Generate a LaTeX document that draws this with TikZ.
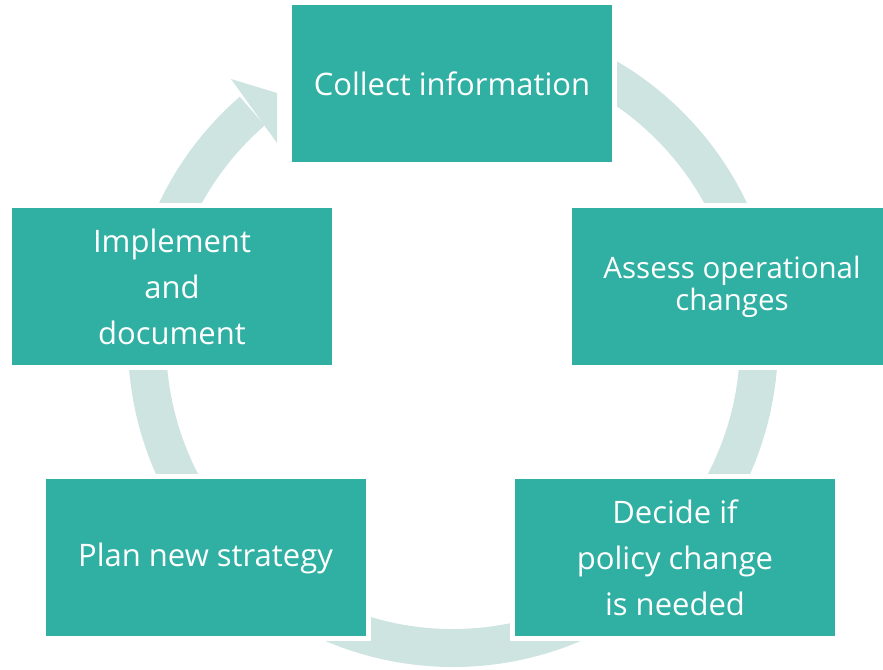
\documentclass[tikz,border=0pt]{standalone}
\usepackage{fontspec}
\setmainfont{Open Sans}
\definecolor{boxteal}{HTML}{30AFA3}
\definecolor{ringtint}{HTML}{CDE4E1}
\begin{document}
\begin{tikzpicture}[x=1pt,y=1pt,
  stage/.style={rectangle, fill=boxteal, text=white, align=center,
    minimum width=320pt, minimum height=157pt, inner sep=0pt,
    preaction={draw=white, line width=10pt},
    font=\fontsize{31}{46}\selectfont},
  ring/.style={fill=ringtint}]
\useasboundingbox (0,0) rectangle (883,669);
\begin{scope}
\clip (0,0) rectangle (883,669);
% circular band running clockwise, tail hidden under the top box
\fill[ring, shift={(453,327)}]
  (131:325) arc[start angle=131, end angle=460, radius=325]
  -- (460:287) arc[start angle=460, end angle=131, radius=287] -- cycle;
% arrow head pointing at the first stage
\fill[ring] (231,590) -- (277,576) -- (277,526) -- cycle;
% the five stages
\node[stage] (collect) at (452,585.5) {Collect information};
\node[stage, font=\fontsize{29.5}{32}\selectfont] (assess) at (732,382.5) {Assess operational\\changes};
\node[stage] (decide) at (675,111) {Decide if\\policy change\\is needed};
\node[stage] (plan) at (205.5,111) {Plan new strategy};
\node[stage] (implement) at (172,382.5) {Implement\\and\\document};
\end{scope}
\end{tikzpicture}
\end{document}
